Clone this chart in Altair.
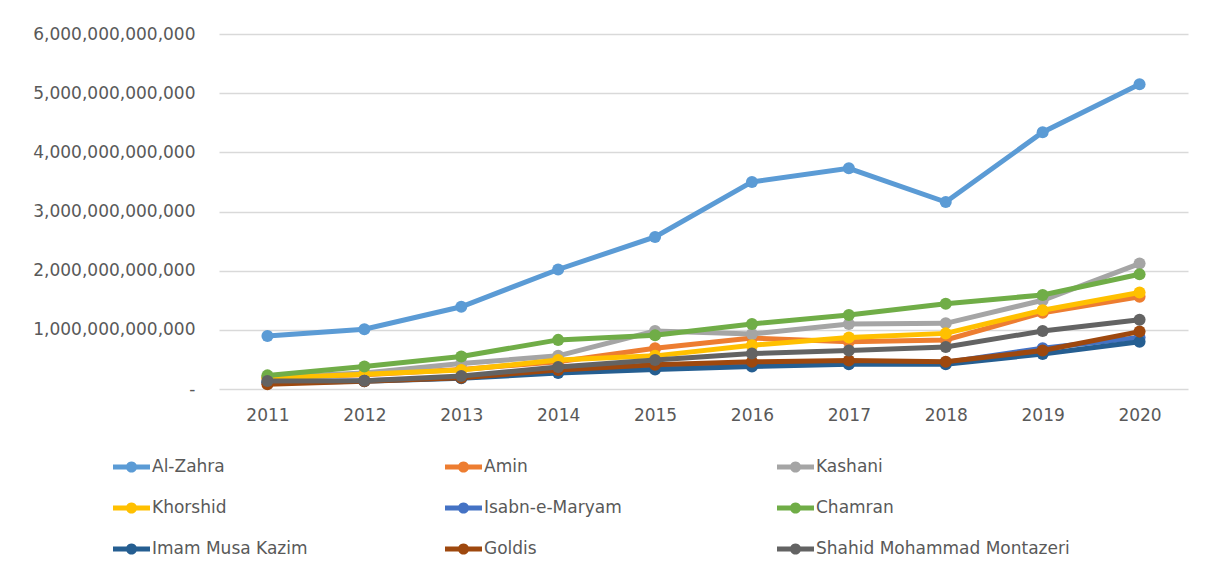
import altair as alt
import pandas as pd

years = [2011, 2012, 2013, 2014, 2015, 2016, 2017, 2018, 2019, 2020]
series = ["Al-Zahra", "Amin", "Kashani", "Khorshid", "Isabn-e-Maryam", "Chamran",
          "Imam Musa Kazim", "Goldis", "Shahid Mohammad Montazeri"]
colors = ["#5B9BD5", "#ED7D31", "#A5A5A5", "#FFC000", "#4472C4", "#70AD47",
          "#255E91", "#9E480E", "#636363"]

# values in trillions
al_zahra = [0.895, 1.01, 1.39, 2.02, 2.57, 3.50, 3.73, 3.16, 4.34, 5.15]
amin = [0.20, 0.24, 0.33, 0.46, 0.69, 0.86, 0.80, 0.83, 1.29, 1.56]
kashani = [0.20, 0.27, 0.43, 0.56, 0.98, 0.93, 1.10, 1.11, 1.50, 2.12]
khorshid = [0.18, 0.25, 0.32, 0.49, 0.56, 0.74, 0.87, 0.94, 1.33, 1.63]
isabn = [0.12, 0.14, 0.19, 0.29, 0.36, 0.42, 0.45, 0.45, 0.69, 0.87]
chamran = [0.23, 0.38, 0.55, 0.83, 0.91, 1.10, 1.25, 1.44, 1.59, 1.94]
imam = [0.11, 0.13, 0.18, 0.27, 0.33, 0.38, 0.42, 0.42, 0.59, 0.80]
goldis = [0.08, 0.13, 0.19, 0.32, 0.41, 0.46, 0.48, 0.46, 0.65, 0.97]
shahid = [0.135, 0.14, 0.22, 0.37, 0.49, 0.60, 0.65, 0.71, 0.98, 1.17]

all_values = [al_zahra, amin, kashani, khorshid, isabn, chamran, imam, goldis, shahid]

rows = []
for name, vals in zip(series, all_values):
    for yr, v in zip(years, vals):
        rows.append({"year": str(yr), "series": name, "value": v * 1e12})
df = pd.DataFrame(rows)

# legend table (3 columns, row-major like the original)
legend_df = pd.DataFrame({
    "series": series,
    "col": [i % 3 for i in range(len(series))],
    "row": [i // 3 for i in range(len(series))],
})

color_scale = alt.Scale(domain=series, range=colors)
fill_enc = alt.Fill("series:N", scale=color_scale, legend=None)
stroke_enc = alt.Stroke("series:N", scale=color_scale, legend=None)

x = alt.X("year:O", sort=[str(v) for v in years],
          axis=alt.Axis(title=None, labelAngle=0, domain=False, ticks=False,
                        labelFontSize=17, labelColor="#595959", labelPadding=18, grid=False))
y = alt.Y("value:Q", scale=alt.Scale(domain=[0, 6e12], nice=False),
          axis=alt.Axis(title=None, values=[0, 1e12, 2e12, 3e12, 4e12, 5e12, 6e12],
                        labelExpr="datum.value == 0 ? '-' : format(datum.value, ',.0f')",
                        domain=False, ticks=False, labelFontSize=17, labelColor="#595959",
                        labelPadding=24, gridColor="#D9D9D9", gridWidth=1.3))

layers = []
for name in series:
    base = alt.Chart(df).transform_filter(alt.datum.series == name).encode(x=x, y=y)
    layers.append(base.mark_line(strokeWidth=5).encode(stroke=stroke_enc))
    layers.append(base.mark_circle(size=145, opacity=1).encode(fill=fill_enc))

main = alt.layer(*layers).properties(width=969, height=355)

legend_symbol = ("M-1,-0.13 L-0.27,-0.13 A0.3,0.3 0 0,1 0.27,-0.13 L1,-0.13 L1,0.13 "
                 "L0.27,0.13 A0.3,0.3 0 0,1 -0.27,0.13 L-1,0.13 Z")

lx = alt.X("col:Q", scale=alt.Scale(domain=[0, 3], range=[-106, 890]), axis=None)
ly = alt.Y("row:Q", scale=alt.Scale(domain=[0, 2], range=[34, 116]), axis=None)
lbase = alt.Chart(legend_df).encode(x=lx, y=ly)
leg_sym = lbase.mark_point(shape=legend_symbol, size=1369, filled=True, opacity=1,
                           strokeWidth=0, xOffset=18.5).encode(fill=fill_enc)
leg_txt = lbase.mark_text(align="left", baseline="middle", dx=39, fontSize=17,
                          color="#595959").encode(text="series:N")
legend_chart = alt.layer(leg_sym, leg_txt).properties(width=969, height=125)

chart = alt.vconcat(main, legend_chart, spacing=10).properties(
    padding={"left": 24, "top": 17, "right": 10, "bottom": 5},
).configure(font="DejaVu Sans").configure_view(stroke=None)

chart.save("out.html", embed_options={"renderer": "svg", "actions": False})
